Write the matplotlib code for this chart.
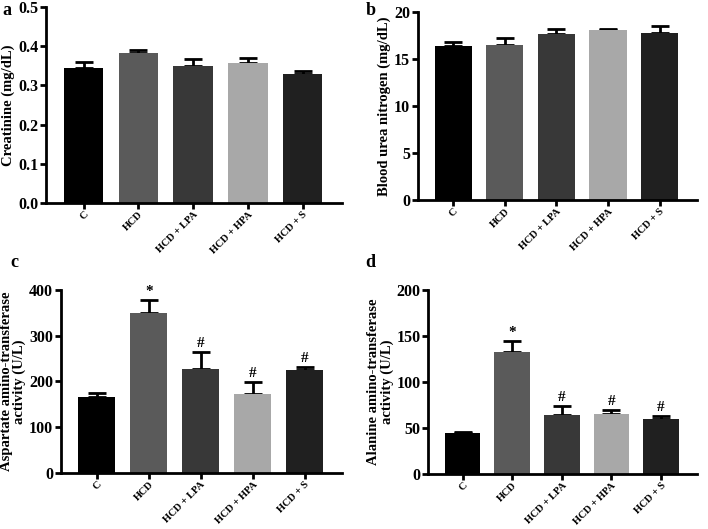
import matplotlib.pyplot as plt
import numpy as np

plt.rcParams['font.family'] = ['Liberation Serif', 'DejaVu Serif']
plt.rcParams['font.weight'] = 'bold'

groups = ['C', 'HCD', 'HCD + LPA', 'HCD + HPA', 'HCD + S']
colors = ['#000000', '#5a5a5a', '#383838', '#a8a8a8', '#202020']

creatinine = [0.345, 0.383, 0.349, 0.358, 0.329]
creatinine_err = [0.015, 0.006, 0.018, 0.012, 0.007]

bun = [16.4, 16.5, 17.65, 18.05, 17.8]
bun_err = [0.4, 0.7, 0.55, 0.2, 0.7]

ast = [166, 350, 228, 172, 225]
ast_err = [8, 28, 36, 27, 7]
ast_marks = ['', '*', '#', '#', '#']

alt = [45, 132, 64, 65, 60]
alt_err = [0.5, 13, 10, 5, 3]
alt_marks = ['', '*', '#', '#', '#']

fig = plt.figure(figsize=(7.08, 5.29), dpi=100)

panels = [
    # label, rect, values, errs, marks, ylim, yticks, ylabel, label pos
    ('a', [0.065, 0.616, 0.418, 0.371], creatinine, creatinine_err, None,
     0.5, [0.0, 0.1, 0.2, 0.3, 0.4, 0.5], 'Creatinine (mg/dL)', (0.003, 0.996)),
    ('b', [0.590, 0.622, 0.394, 0.355], bun, bun_err, None,
     20, [0, 5, 10, 15, 20], 'Blood urea nitrogen (mg/dL)', (0.516, 0.996)),
    ('c', [0.086, 0.106, 0.397, 0.346], ast, ast_err, ast_marks,
     400, [0, 100, 200, 300, 400], 'Aspartate amino-transferase\nactivity (U/L)', (0.014, 0.52)),
    ('d', [0.605, 0.104, 0.379, 0.348], alt, alt_err, alt_marks,
     200, [0, 50, 100, 150, 200], 'Alanine amino-transferase\nactivity (U/L)', (0.516, 0.52)),
]

x = np.arange(len(groups))
for lab, rect, vals, errs, marks, ymax, yticks, ylabel, lpos in panels:
    ax = fig.add_axes(rect)
    ax.bar(x, vals, width=0.72, color=colors, zorder=2)
    ax.errorbar(x, vals, yerr=[np.zeros(len(vals)), errs], fmt='none',
                ecolor='black', elinewidth=2, capsize=6.5, capthick=2, zorder=1)
    if marks:
        for xi, v, e, m in zip(x, vals, errs, marks):
            if m:
                ax.text(xi, v + e + ymax * 0.01, m, ha='center', va='bottom',
                        fontsize=11, fontweight='bold')
    ax.set_xlim(-0.69, 4.72)
    ax.set_ylim(0, ymax)
    ax.set_yticks(yticks)
    if lab == 'a':
        ax.set_yticklabels(['%.1f' % t for t in yticks])
    ax.set_xticks(x)
    ax.set_xticklabels(groups, rotation=45, ha='right', rotation_mode='anchor',
                       fontsize=7.5, fontweight='bold')
    ax.set_ylabel(ylabel, fontsize=10.5, fontweight='bold', labelpad=2,
                  linespacing=1.0)
    ax.tick_params(axis='y', labelsize=11.5, width=2, length=4, pad=1.5)
    ax.tick_params(axis='x', width=2, length=4, pad=1)
    for s in ['top', 'right']:
        ax.spines[s].set_visible(False)
    for s in ['left', 'bottom']:
        ax.spines[s].set_linewidth(2)
    fig.text(lpos[0], lpos[1], lab, fontsize=13, fontweight='bold', va='top')

fig.savefig('out.png', dpi=100)
